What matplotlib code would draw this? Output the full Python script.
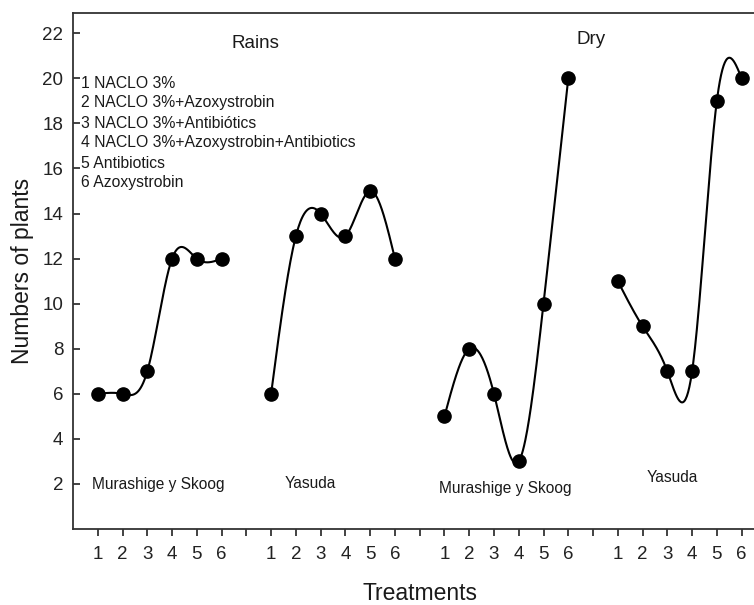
import numpy as np
import matplotlib
matplotlib.use("Agg")
import matplotlib.pyplot as plt

plt.rcParams['font.family'] = ['Liberation Sans', 'DejaVu Sans']

# data
treatments = [1, 2, 3, 4, 5, 6]
rains_ms = [6, 6, 7, 12, 12, 12]
rains_yasuda = [6, 13, 14, 13, 15, 12]
dry_ms = [5, 8, 6, 3, 10, 20]
dry_yasuda = [11, 9, 7, 7, 19, 20]
series = [rains_ms, rains_yasuda, dry_ms, dry_yasuda]
group_offsets = [0, 7, 14, 21]
medium_labels = ["Murashige y Skoog", "Yasuda", "Murashige y Skoog", "Yasuda"]
legend_lines = ["1 NACLO 3%", "2 NACLO 3%+Azoxystrobin", "3 NACLO 3%+Antibiótics",
                "4 NACLO 3%+Azoxystrobin+Antibiotics", "5 Antibiotics", "6 Azoxystrobin"]


def natural_spline(x, y, num=200):
    x = np.asarray(x, float)
    y = np.asarray(y, float)
    n = len(x)
    h = np.diff(x)
    A = np.zeros((n, n))
    b = np.zeros(n)
    A[0, 0] = 1
    A[-1, -1] = 1
    for i in range(1, n - 1):
        A[i, i - 1] = h[i - 1]
        A[i, i] = 2 * (h[i - 1] + h[i])
        A[i, i + 1] = h[i]
        b[i] = 6 * ((y[i + 1] - y[i]) / h[i] - (y[i] - y[i - 1]) / h[i - 1])
    M = np.linalg.solve(A, b)
    xs = np.linspace(x[0], x[-1], num)
    idx = np.clip(np.searchsorted(x, xs) - 1, 0, n - 2)
    x0, x1 = x[idx], x[idx + 1]
    hh = x1 - x0
    t0 = x1 - xs
    t1 = xs - x0
    ys = (M[idx] * t0**3 + M[idx + 1] * t1**3) / (6 * hh) \
        + (y[idx] / hh - M[idx] * hh / 6) * t0 \
        + (y[idx + 1] / hh - M[idx + 1] * hh / 6) * t1
    return xs, ys


fig = plt.figure(figsize=(7.54, 6.05), dpi=100)
ax = fig.add_axes([73 / 754, 1 - 529 / 605, 681 / 754, 516 / 605])

for off, vals in zip(group_offsets, series):
    xpos = [off + t for t in treatments]
    xs, ys = natural_spline(xpos, vals)
    ax.plot(xs, ys, color='black', lw=1.5)
    ax.plot(xpos, vals, 'o', color='black', ms=9.5)

ax.set_xlim(0, 27.5)
ax.set_ylim(0, 22.9)

# ticks run on through the gaps, only 1-6 get a label
tick_pos = list(range(1, 28))
tick_lab = []
for p in tick_pos:
    if p % 7 == 0:
        tick_lab.append("")
    else:
        tick_lab.append(str(p % 7))
ax.set_xticks(tick_pos)
ax.set_xticklabels(tick_lab)
ax.set_yticks(range(2, 23, 2))

ax.tick_params(axis='x', direction='out', length=5, width=1.2, pad=7,
               labelsize=13.5, colors='#222222')
ax.tick_params(axis='y', direction='in', length=5, width=1.2, pad=7,
               labelsize=13.5, colors='#222222')

for s in ['left', 'top', 'bottom']:
    ax.spines[s].set_linewidth(1.3)
    ax.spines[s].set_color('#333333')
ax.spines['right'].set_visible(False)

# annotations
def px(x, y):
    return x / 754, 1 - y / 605

fig.text(*px(255, 43), "Rains", fontsize=13.5, ha='center', va='center', color='#1a1a1a')
fig.text(*px(591, 40), "Dry", fontsize=13.5, ha='center', va='center', color='#1a1a1a')

for i, line in enumerate(legend_lines):
    fig.text(*px(81, 83 + 20 * i), line, fontsize=11.3, ha='left', va='center', color='#1a1a1a')

label_pos = [(158, 485), (310, 484), (505, 488), (672, 478)]
for (lx, ly), lab in zip(label_pos, medium_labels):
    fig.text(*px(lx, ly), lab, fontsize=11.2, ha='center', va='center', color='#1a1a1a')

fig.text(*px(23, 271), "Numbers of plants", fontsize=16.5, rotation=90,
         ha='center', va='center', color='#1a1a1a')
fig.text(*px(420, 593), "Treatments", fontsize=16.5, ha='center', va='center', color='#1a1a1a')

fig.savefig("out.png", dpi=100)
